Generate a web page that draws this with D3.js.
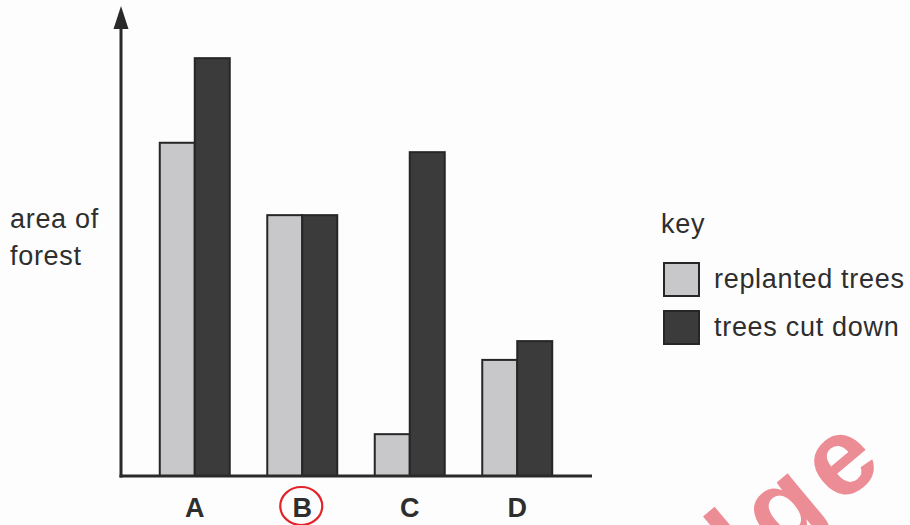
<!DOCTYPE html>
<html>
<head>
<meta charset="utf-8">
<script src="https://cdn.jsdelivr.net/npm/d3@7"></script>
<style>
  html, body { margin: 0; padding: 0; background: #fdfdfd; }
  svg { display: block; }
  text { font-family: "Liberation Sans", Arial, Helvetica, sans-serif; fill: #2e2e2e; }
</style>
</head>
<body>
<svg id="chart" width="910" height="525"></svg>
<script>
// ---- data ----
const categories = ["A", "B", "C", "D"];
const seriesNames = ["replanted trees", "trees cut down"];
const replanted = [70.9, 55.5, 8.9, 24.7];
const cutDown = [88.9, 55.5, 68.9, 28.7];
const yLabelLines = ["area of", "forest"];
const keyTitle = "key";
const circledCategory = "B";
const watermark = "dge";

// ---- layout ----
const svg = d3.select("#chart");
const baseY = 476, topY = 6;
const xLeft = 121, xRight = 592;

const x = d3.scaleBand().domain(categories).range([120, xRight])
  .paddingInner(0.349).paddingOuter(0.37);
const xs = d3.scaleBand().domain(seriesNames).range([0, x.bandwidth()]).padding(0);
const y = d3.scaleLinear().domain([0, 100]).range([baseY, topY]);
const color = d3.scaleOrdinal().domain(seriesNames).range(["#c8c8ca", "#3b3b3b"]);

const rows = categories.map((c, i) => ({ cat: c, vals: [
  { s: seriesNames[0], v: replanted[i] },
  { s: seriesNames[1], v: cutDown[i] }
]}));

// watermark (behind everything)
svg.append("text")
  .attr("transform", "translate(893,461) rotate(-40)")
  .attr("text-anchor", "end")
  .style("font-size", "110px")
  .style("font-weight", "bold")
  .style("letter-spacing", "10px")
  .style("fill", "#ec8c94")
  .text(watermark);

// bars
const g = svg.append("g");
g.selectAll("g.grp").data(rows).join("g")
  .attr("class", "grp")
  .attr("transform", d => `translate(${x(d.cat)},0)`)
  .selectAll("rect").data(d => d.vals).join("rect")
  .attr("x", d => xs(d.s))
  .attr("width", xs.bandwidth())
  .attr("y", d => y(d.v))
  .attr("height", d => baseY - y(d.v))
  .attr("fill", d => color(d.s))
  .attr("stroke", "#262626")
  .attr("stroke-width", 2);

// axes lines
svg.append("line").attr("x1", xLeft).attr("x2", xLeft).attr("y1", 26).attr("y2", baseY + 1.5)
  .attr("stroke", "#2a2a2a").attr("stroke-width", 3);
svg.append("path").attr("d", `M${xLeft},${topY} L${xLeft - 7.5},${29} L${xLeft + 7.5},${29} Z`)
  .attr("fill", "#2a2a2a");
svg.append("line").attr("x1", xLeft - 1.5).attr("x2", xRight).attr("y1", baseY).attr("y2", baseY)
  .attr("stroke", "#2a2a2a").attr("stroke-width", 3);

// category labels via axis
const xAxis = d3.axisBottom(x).tickSize(0).tickPadding(0);
const ax = svg.append("g").attr("transform", `translate(0,${baseY})`).call(xAxis);
ax.select(".domain").remove();
ax.selectAll("text")
  .attr("y", 0).attr("dy", 0)
  .attr("transform", "translate(0,41)")
  .style("font-size", "27px").style("font-weight", "bold")
  .style("font-family", "'Liberation Sans', Arial, sans-serif")
  .attr("fill", "#2a2a2a");

// red circle around B
svg.append("ellipse")
  .attr("cx", x(circledCategory) + x.bandwidth() / 2 - 1)
  .attr("cy", 506)
  .attr("rx", 21).attr("ry", 19)
  .attr("fill", "none").attr("stroke", "#e2242a").attr("stroke-width", 2.2);

// y label
svg.append("g").selectAll("text").data(yLabelLines).join("text")
  .attr("x", 10).attr("y", (d, i) => 228 + i * 37)
  .style("font-size", "27px").style("letter-spacing", "0.7px")
  .text(d => d);

// key
svg.append("text").attr("x", 661).attr("y", 233)
  .style("font-size", "27px").style("letter-spacing", "0.7px").text(keyTitle);
const key = svg.append("g").selectAll("g").data(seriesNames).join("g")
  .attr("transform", (d, i) => `translate(664,${263 + i * 48})`);
key.append("rect").attr("width", 35).attr("height", 33)
  .attr("fill", d => color(d)).attr("stroke", "#262626").attr("stroke-width", 2);
key.append("text").attr("x", 50).attr("y", 25)
  .style("font-size", "27px").style("letter-spacing", "0.7px").text(d => d);
</script>
</body>
</html>
